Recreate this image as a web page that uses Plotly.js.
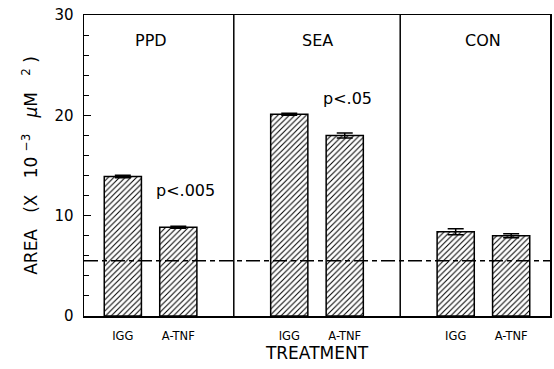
<!DOCTYPE html>
<html>
<head>
<meta charset="utf-8">
<script src="https://cdn.plot.ly/plotly-3.0.1.min.js"></script>
<style>html,body{margin:0;padding:0;background:#fff;}#chart{width:554px;height:369px;}</style>
</head>
<body>
<div id="chart"></div>
<script>
// ---- data ----
const groups = ['PPD', 'SEA', 'CON'];
const treatments = ['IGG', 'A-TNF'];
const areaIGG = [13.9, 20.1, 8.4];
const areaATNF = [8.85, 18.0, 8.0];
const errIGG = [0.12, 0.1, 0.3];
const errATNF = [0.1, 0.25, 0.2];
const pLabels = ['p<.005', 'p<.05', ''];
const baselineValue = 5.5;
const yTicks = [0, 10, 20, 30];

// ---- layout helpers ----
const slot = (g, t) => g * 3 + t;   // group g, treatment t
const FONT = 'DejaVu Sans, Verdana, sans-serif';
const SP = '\u00A0';

const tickVals = [], tickText = [];
groups.forEach((g, gi) => treatments.forEach((t, ti) => { tickVals.push(slot(gi, ti)); tickText.push(t); }));

const series = [areaIGG, areaATNF];
const errs = [errIGG, errATNF];
const traces = treatments.map((t, ti) => ({
  type: 'bar',
  name: t,
  x: groups.map((g, gi) => slot(gi, ti)),
  y: series[ti],
  width: 0.67,
  error_y: { type: 'data', array: errs[ti], visible: true, color: '#000', thickness: 1.5, width: 8 },
  marker: {
    color: '#fff',
    line: { color: '#000', width: 1.5 },
    pattern: { shape: '/', size: 4, solidity: 0.26, fgcolor: '#000', bgcolor: '#fff', fillmode: 'replace' }
  },
  showlegend: false,
  hoverinfo: 'skip'
}));

const shapes = [];
groups.forEach((g, gi) => {
  if (gi > 0) shapes.push({ type: 'line', xref: 'x', yref: 'paper', x0: slot(gi, 0) - 1, x1: slot(gi, 0) - 1, y0: 0, y1: 1, line: { color: '#000', width: 1.5 } });
});
shapes.push({ type: 'line', xref: 'paper', yref: 'y', x0: 0, x1: 1, y0: baselineValue, y1: baselineValue, layer: 'above',
  line: { color: '#000', width: 1.5, dash: '14px,4px,5px,4px' } });

const pPos = [{ dx: 1.13, y: 12.5 }, { dx: 1.05, y: 21.7 }, null];
const annotations = [];
groups.forEach((g, gi) => {
  annotations.push({ x: slot(gi, 0) + 0.5, y: 27.5, xref: 'x', yref: 'y', text: g, showarrow: false,
    font: { family: FONT, size: 16, color: '#000' } });
  if (pLabels[gi]) annotations.push({ x: slot(gi, 0) + pPos[gi].dx, y: pPos[gi].y, xref: 'x', yref: 'y', text: pLabels[gi], showarrow: false,
    font: { family: FONT, size: 16, color: '#000' } });
});

const yTitle = ['AREA', '(X', '10' + SP + '<sup>−3</sup>', '<i>μ</i>M', '<sup>2</sup>' + SP + ')'].join(SP + SP + SP);

const layout = {
  width: 554, height: 369,
  margin: { l: 84, r: 4, t: 15, b: 53 },
  paper_bgcolor: '#fff', plot_bgcolor: '#fff',
  barmode: 'overlay',
  font: { family: FONT, color: '#000' },
  xaxis: {
    range: [-0.7, 7.7], tickvals: tickVals, ticktext: tickText, ticks: '',
    showline: true, mirror: true, linecolor: '#000', linewidth: 1.5,
    showgrid: false, zeroline: false, ticklabelstandoff: 9,
    tickfont: { family: FONT, size: 11.5, color: '#000' },
    title: { text: 'TREATMENT', font: { family: FONT, size: 17, color: '#000' }, standoff: 4 }
  },
  yaxis: {
    range: [0, 30], tickvals: yTicks, ticks: 'inside', ticklen: 7, tickwidth: 1.2, tickcolor: '#000',
    minor: { dtick: 2, ticks: 'inside', ticklen: 5, tickwidth: 1, tickcolor: '#000' },
    showline: true, mirror: true, linecolor: '#000', linewidth: 1.5,
    showgrid: false, zeroline: false, ticklabelstandoff: 6,
    tickfont: { family: FONT, size: 15, color: '#000' },
    title: { text: yTitle, font: { family: FONT, size: 17, color: '#000' }, standoff: 12 }
  },
  shapes: shapes,
  annotations: annotations
};

Plotly.newPlot('chart', traces, layout, { displayModeBar: false, staticPlot: true });
</script>
</body>
</html>
